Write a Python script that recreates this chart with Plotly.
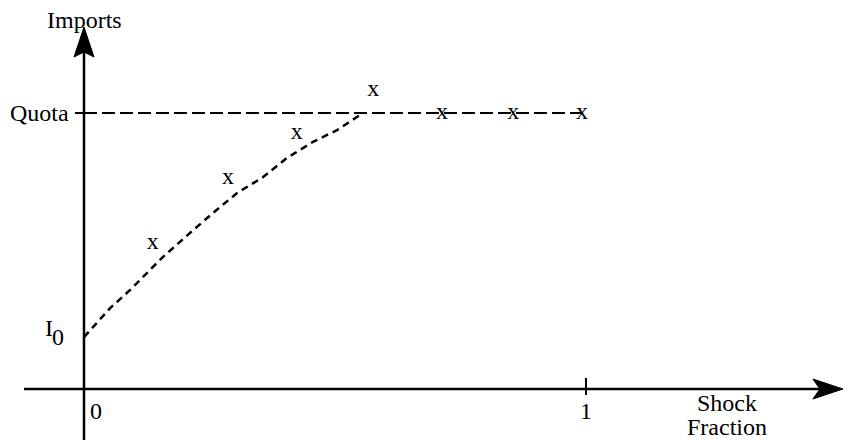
import plotly.graph_objects as go

# shock fraction vs imports (quota normalised to 1)
QUOTA = 1.0
I0 = 0.188

# dashed response curve
curve_x = [0.0, 0.052, 0.092, 0.157, 0.211, 0.257, 0.305, 0.357, 0.404, 0.456, 0.504, 0.556]
curve_y = [I0, 0.293, 0.359, 0.478, 0.565, 0.638, 0.710, 0.768, 0.837, 0.895, 0.938, QUOTA]

# "x" observations
obs_x = [0.137, 0.287, 0.424, 0.576, 0.713, 0.855, 0.992]
obs_y = [0.529, 0.764, 0.928, 1.083, 1.0, 1.0, 1.0]

tick_labels = ["0", "1"]
tick_vals = [0.0, 1.0]

FONT = "Liberation Serif, Times New Roman, serif"

# visible window in data units (page body has an 8px margin)
X_MIN, X_MAX = -0.1514, 1.5299
Y_MIN, Y_MAX = -0.1848, 1.3804
X_TIP, Y_TIP = 1.512, 1.3116
X_LEFT = -0.1195

fig = go.Figure()

# quota line
fig.add_trace(go.Scatter(
    x=[0.0, 1.0], y=[QUOTA, QUOTA],
    mode="lines",
    line=dict(color="black", width=2, dash="13px,5px"),
    hoverinfo="skip",
))

# curve
fig.add_trace(go.Scatter(
    x=curve_x, y=curve_y,
    mode="lines",
    line=dict(color="black", width=2.5, dash="7px,5px"),
    hoverinfo="skip",
))

# x marks
fig.add_trace(go.Scatter(
    x=obs_x, y=obs_y,
    mode="text",
    text=["x"] * len(obs_x),
    textposition="middle center",
    textfont=dict(family=FONT, size=24, color="black"),
    hoverinfo="skip",
))

shapes = []
# axes
shapes.append(dict(type="line", xref="x", yref="y", x0=0, x1=0, y0=Y_MIN, y1=Y_TIP - 0.09,
                   line=dict(color="black", width=2.5)))
shapes.append(dict(type="line", xref="x", yref="y", x0=X_LEFT, x1=X_TIP - 0.045, y0=0, y1=0,
                   line=dict(color="black", width=2.5)))
# arrow heads
hw = 0.0199
shapes.append(dict(type="path", xref="x", yref="y",
                   path=f"M 0,{Y_TIP} L {hw},{Y_TIP - 0.1087} L 0,{Y_TIP - 0.0906} L {-hw},{Y_TIP - 0.1087} Z",
                   fillcolor="black", line=dict(color="black", width=1)))
hh = 0.0362
shapes.append(dict(type="path", xref="x", yref="y",
                   path=f"M {X_TIP},0 L {X_TIP - 0.06},{hh} L {X_TIP - 0.046},0 L {X_TIP - 0.06},{-hh} Z",
                   fillcolor="black", line=dict(color="black", width=1)))
# ticks
shapes.append(dict(type="line", xref="x", yref="y", x0=-0.018, x1=0, y0=QUOTA, y1=QUOTA,
                   line=dict(color="black", width=2)))
shapes.append(dict(type="line", xref="x", yref="y", x0=1.0, x1=1.0, y0=-0.022, y1=0.04,
                   line=dict(color="black", width=2)))

annotations = [
    dict(x=0, y=1.0, yref="paper", text="Imports", xanchor="center", yanchor="top", yshift=3),
    dict(x=-0.026, y=QUOTA, text="Quota", xanchor="right", yanchor="middle"),
    dict(x=-0.069, y=0.22, text="I", xanchor="center", yanchor="middle"),
    dict(x=-0.051, y=0.187, text="0", xanchor="center", yanchor="middle"),
    dict(x=1.28, y=-0.05, text="Shock", xanchor="center", yanchor="middle"),
    dict(x=1.28, y=-0.139, text="Fraction", xanchor="center", yanchor="middle"),
]
for v, lab in zip(tick_vals, tick_labels):
    annotations.append(dict(x=v + (0.024 if v == 0 else 0), y=-0.08, text=lab,
                            xanchor="center", yanchor="middle"))
for a in annotations:
    a.setdefault("yref", "y")
    a.update(xref="x", showarrow=False,
             font=dict(family=FONT, size=24, color="black"))

fig.update_layout(
    width=844, height=432,
    margin=dict(l=0, r=0, t=0, b=0),
    paper_bgcolor="white", plot_bgcolor="white",
    showlegend=False,
    xaxis=dict(range=[X_MIN, X_MAX], visible=False),
    yaxis=dict(range=[Y_MIN, Y_MAX], visible=False),
    shapes=shapes,
    annotations=annotations,
)

fig.write_html("out.html")
